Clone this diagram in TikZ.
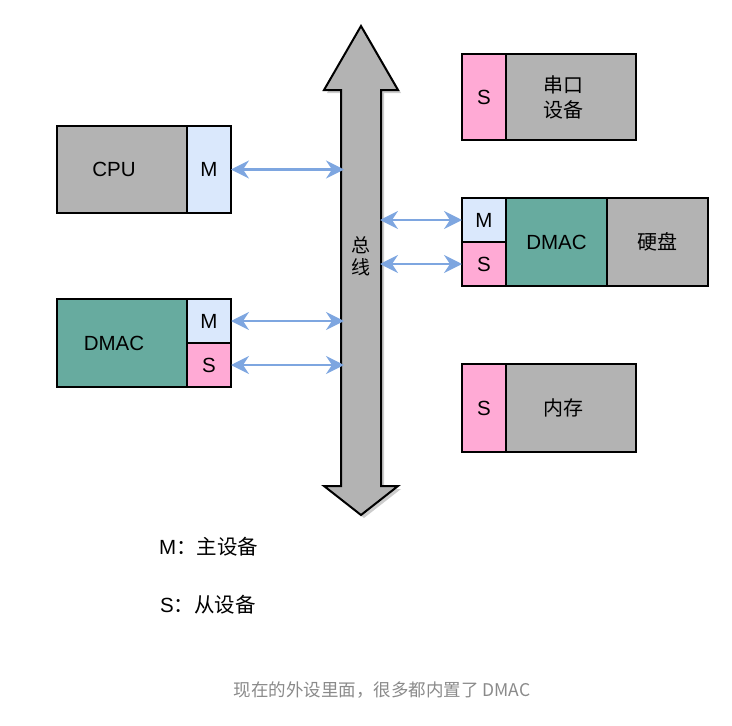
\documentclass[tikz,border=0pt]{standalone}
\usepackage{fontspec}
\setmainfont{Liberation Sans}
\newfontfamily\cjk{Noto Sans CJK SC}
\usetikzlibrary{arrows.meta}
\definecolor{boxgray}{HTML}{B3B3B3}
\definecolor{mblue}{HTML}{DAE8FC}
\definecolor{spink}{HTML}{FFAAD5}
\definecolor{dmacgreen}{HTML}{67AB9F}
\definecolor{linkblue}{HTML}{7EA6E0}
\definecolor{captiongray}{HTML}{8A8A8A}
\tikzset{
  unit/.style={draw=black, line width=2pt, inner sep=0pt, outer sep=0pt,
    font=\fontsize{20.5}{24}\selectfont, align=center},
  dev/.style={unit, fill=boxgray},
  master/.style={unit, fill=mblue, minimum width=44pt},
  slave/.style={unit, fill=spink, minimum width=44pt},
  dmac/.style={unit, fill=dmacgreen},
  % caption of a wide box, set a little left of its centre
  boxtext/.style={label={[xshift=-8pt, align=center, inner sep=0pt,
    font=\fontsize{20.5}{24}\selectfont]center:#1}},
  cjkboxtext/.style={label={[xshift=-8pt, align=center, inner sep=0pt,
    font=\cjk\fontsize{20}{25}\selectfont]center:#1}},
  cjklabel/.style={font=\cjk\fontsize{20}{25}\selectfont},
  linktip/.tip={Stealth[length=18pt,width=18pt,inset=6pt]},
  link/.style={draw=linkblue, line width=2.4pt, {linktip}-{linktip}},
  legend/.style={anchor=west, inner sep=0pt, font=\fontsize{20.5}{24}\selectfont},
}
\begin{document}
\begin{tikzpicture}[x=1pt, y=-1pt]
\useasboundingbox (0,0) rectangle (732,726);

% system bus: a double-headed arrow with a soft shadow
\fill[black, opacity=0.2]
  (364,29) -- (401,93) -- (384,93) -- (384,489) -- (401,489) -- (364,518)
  -- (327,489) -- (344,489) -- (344,93) -- (327,93) -- cycle;
\draw[fill=boxgray, line width=2pt, line join=miter]
  (361,26) -- (398,90) -- (381,90) -- (381,486) -- (398,486) -- (361,515)
  -- (324,486) -- (341,486) -- (341,90) -- (324,90) -- cycle;
\node[font=\cjk\fontsize{19}{22}\selectfont, align=center] (bus) at (361,256) {总\\线};
\coordinate (busL) at (344,0);
\coordinate (busR) at (380,0);

% CPU
\node[dev, minimum width=130pt, minimum height=87pt, boxtext=CPU] (cpu) at (122,169.5) {};
\node[master, minimum height=87pt] (cpuM) at (209,169.5) {M};

% stand-alone DMA controller
\node[dmac, minimum width=130pt, minimum height=88pt, boxtext=DMAC] (dmacL) at (122,343) {};
\node[master, minimum height=44pt] (dmacLM) at (209,321) {M};
\node[slave, minimum height=44pt] (dmacLS) at (209,365) {S};

% serial device
\node[slave, minimum height=86pt] (serS) at (484,97) {S};
\node[dev, minimum width=130pt, minimum height=86pt, cjkboxtext={串口\\设备}] (ser) at (571,97) {};

% disk with its own DMA controller
\node[master, minimum height=44pt] (diskM) at (484,220) {M};
\node[slave, minimum height=44pt] (diskS) at (484,264) {S};
\node[dmac, minimum width=101pt, minimum height=88pt] (dmacR) at (556.5,242) {DMAC};
\node[dev, minimum width=101pt, minimum height=88pt, cjklabel] (disk) at (657.5,242) {硬盘};

% memory
\node[slave, minimum height=88pt] (memS) at (484,408) {S};
\node[dev, minimum width=130pt, minimum height=88pt, cjkboxtext=内存] (mem) at (571,408) {};

% bus connections
\draw[link] (cpuM.east) -- (cpuM.east -| busL);
\draw[link] (dmacLM.east) -- (dmacLM.east -| busL);
\draw[link] (dmacLS.east) -- (dmacLS.east -| busL);
\draw[link] (diskM.west -| busR) -- (diskM.west);
\draw[link] (diskS.west -| busR) -- (diskS.west);

% legend
\node[legend] (legM) at (159,547) {M{\cjk ：主设备}};
\node[legend] (legS) at (160,605) {S{\cjk ：从设备}};

% caption
\node[font=\cjk\fontsize{17.5}{20}\selectfont, text=captiongray] (caption) at (382,690) {现在的外设里面，很多都内置了 DMAC};
\end{tikzpicture}
\end{document}
